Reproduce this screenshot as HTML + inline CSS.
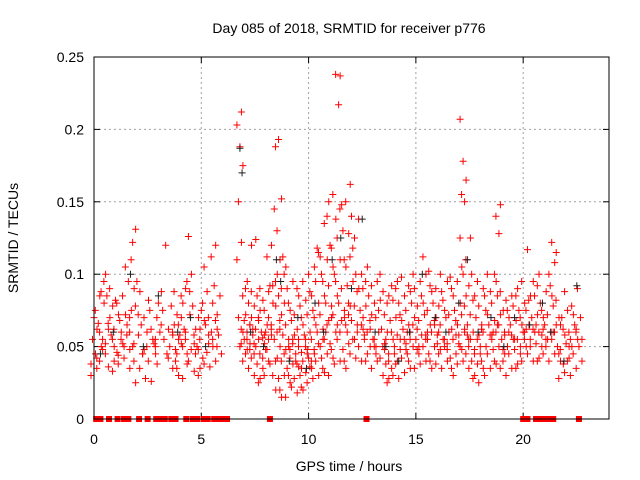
<!DOCTYPE html>
<html><head><meta charset="utf-8"><style>
body{margin:0;background:#fff}
svg{display:block;font-family:"Liberation Sans",sans-serif}
</style></head><body>
<svg id="c" width="640" height="480" xmlns="http://www.w3.org/2000/svg"></svg>
<script>
const xTicks=[0,5,10,15,20];
const yTicks=[0,0.05,0.1,0.15,0.2,0.25];
const yTickLabels=["0","0.05","0.1","0.15","0.2","0.25"];
const redTimes=[0.0,0.2,0.4,0.6,0.8,1.0,1.2,1.4,1.6,1.8,2.0,2.2,2.4,2.6,2.8,3.0,3.2,3.4,3.6,3.8,4.0,4.2,4.4,4.6,4.8,5.0,5.2,5.4,5.6,5.8,6.8,7.0,7.2,7.4,7.6,7.8,8.0,8.2,8.4,8.6,8.8,9.0,9.2,9.4,9.6,9.8,10.0,10.2,10.4,10.6,10.8,11.0,11.2,11.4,11.6,11.8,12.0,12.2,12.4,12.6,12.8,13.0,13.2,13.4,13.6,13.8,14.0,14.2,14.4,14.6,14.8,15.0,15.2,15.4,15.6,15.8,16.0,16.2,16.4,16.6,16.8,17.0,17.2,17.4,17.6,17.8,18.0,18.2,18.4,18.6,18.8,19.0,19.2,19.4,19.6,19.8,20.0,20.2,20.4,20.6,20.8,21.0,21.2,21.4,21.6,21.8,22.0,22.2,22.4,22.6];
const redValues=[
[30,45,55,62,70,38],[35,50,66,75,85,42],[48,60,80,88,100,55,40],[36,52,70,85,95,62,45],[40,58,66,78,90,50],[33,46,62,72,82,55],[38,52,68,80,60,44],[42,55,72,85,65,50],[35,58,75,95,105,48],[25,50,70,90,110,131,122,60],
[40,58,78,88,95,52],[35,48,65,72,45],[28,45,60,70,82],[26,40,55,75,50],[38,52,62,45],[50,60,70,88,80,55],[65,120,75],[45,55,62],[35,50,65,78,42,58],[30,48,60,72,88,55,40],
[35,52,65,80,58,45,70],[28,45,62,85,90,50,38],[40,55,72,95,100,126,60],[33,48,62,78,88,52],[35,50,58,70,45,62],[30,42,55,68,75,48],[38,52,65,80,88,105,58],[36,46,60,70,50],[40,55,72,92,112,120,80,62],[45,58,68,85,50],
[110,122,150,175,188,203,212,70,60,50],[40,48,55,62,72,85,95,68,52],[35,45,52,60,70,80,90,65,55,120],[30,42,50,58,65,78,88,124,62,48],[28,38,45,55,62,75,85,52,68],[25,35,45,52,60,70,82,90,58],[30,40,48,56,65,75,88,60,42],[38,48,58,70,80,92,112,120,55],[20,30,42,55,65,78,92,100,145,62],[15,28,40,50,60,72,85,95,110,130,152,193,188],
[20,30,40,48,58,68,80,90,105,112,62],[15,25,35,45,55,65,75,90,100,50],[22,30,38,48,58,68,80,95,42],[18,28,36,45,52,62,72,85,40,55],[20,30,38,46,55,65,78,90,35,50],[22,32,40,48,58,70,82,95,45],[25,35,42,50,60,72,85,100,55],[28,36,45,55,65,75,88,105,40],[30,40,50,60,70,80,95,112,118,48],[32,42,52,62,72,85,100,115,55],
[35,45,55,68,80,95,110,135,150,60],[30,42,52,65,78,92,105,120,140,70],[38,48,60,72,85,100,118,138,155,65],[40,55,68,80,95,110,125,148,217,238,237],[35,48,60,75,90,105,130,145,70],[40,52,65,78,92,110,128,150,162,60],[45,55,68,80,95,112,125,140,72],[42,55,65,78,90,100,118,60],[40,50,62,75,88,100,138,70],[45,55,65,78,90,105,58],
[40,50,60,72,85,95,62],[35,45,55,68,80,92,50],[40,50,60,70,82,95,55],[30,42,52,62,75,88,100,48],[28,38,50,60,72,85,55],[25,35,45,55,68,80,92,40],[30,40,50,60,70,82,95,45],[28,38,48,58,68,80,90,55],[32,42,52,62,72,85,98,48],[35,45,55,65,75,88,60],
[40,50,60,70,80,92,100,55],[35,45,55,65,78,90,50],[38,48,58,68,80,95,62],[40,50,60,72,85,100,112,55],[35,45,55,65,75,88,102,58],[40,50,60,70,80,92,65],[38,48,58,68,78,90,100,52],[35,45,55,65,75,88,60],[40,50,60,70,82,95,55],[30,42,52,62,72,85,98,48],
[35,45,55,65,75,90,58],[38,48,58,68,80,95,105,52],[40,50,60,72,85,100,125,150,155,165,178,207,62],[35,45,55,65,78,92,110,125,58],[30,40,50,60,72,85,100,55],[28,38,48,58,70,82,95,45],[25,35,45,55,65,78,90,50],[30,40,50,60,72,85,62],[35,45,55,65,75,88,100,58],[38,48,58,68,80,95,60],
[40,50,60,72,85,100,128,140,148,65],[35,45,55,65,75,88,58],[30,40,50,60,70,82,48],[35,45,55,65,75,85,60],[38,48,58,68,78,90,55],[35,45,55,65,75,85,50],[40,50,60,70,80,95,62],[45,55,65,75,85,117,60],[40,50,60,70,82,95,55],[42,52,62,72,85,100,65],
[40,50,60,70,80,92,58],[45,55,65,75,88,62],[40,50,60,72,85,100,55],[45,55,65,78,92,108,122,115,60],[40,50,60,70,82,65],[28,38,48,58,70,45],[32,42,52,62,75,88,50],[30,40,50,60,72,55],[35,45,55,65,78,62],[40,50,60,70,90,55]];
const blackTimes=[0.3,0.9,1.7,2.3,3.0,3.9,4.5,5.2,6.8,6.9,7.3,7.9,8.5,8.7,9.1,9.5,9.9,10.3,10.7,11.1,11.5,12.0,12.5,13.1,13.6,14.2,14.7,15.3,15.9,16.4,17.0,17.4,17.9,18.5,19.1,19.6,20.3,20.9,21.3,21.9,22.5];
const blackValues=[0.045,0.06,0.1,0.05,0.085,0.06,0.07,0.05,0.187,0.17,0.06,0.05,0.11,0.095,0.04,0.07,0.035,0.08,0.06,0.11,0.125,0.09,0.138,0.06,0.05,0.04,0.06,0.1,0.07,0.06,0.08,0.11,0.06,0.07,0.05,0.07,0.065,0.08,0.06,0.04,0.092];
const zeroTimes=[0.1,0.3,0.7,1.1,1.4,1.6,2.1,2.5,2.9,3.1,3.3,3.6,3.8,4.3,4.6,4.8,5.1,5.3,5.6,5.8,6.0,6.2,8.2,12.7,20.0,20.2,20.6,20.8,21.0,21.2,21.4,22.6];
const L=94,R=609,T=57,B=419,XMAX=24,YMAX=0.25;
const sx=t=>L+t/XMAX*(R-L), sy=v=>B-v/YMAX*(B-T);
const svg=document.getElementById('c');const NS='http://www.w3.org/2000/svg';
function mk(tag,a,p){const e=document.createElementNS(NS,tag);for(const k in a)e.setAttribute(k,a[k]);(p||svg).appendChild(e);return e;}
const grid=mk('g',{stroke:'#a0a0a0','stroke-width':1,'stroke-dasharray':'2,3'});


const axes=mk('g',{});


yTicks.forEach((v,i)=>{const y=sy(v);
 if(i>0&&i<yTicks.length-1)mk('line',{x1:L,x2:R,y1:y,y2:y},grid);
 mk('line',{x1:L,x2:L+6,y1:y,y2:y,stroke:'#000'},axes);mk('line',{x1:R,x2:R-6,y1:y,y2:y,stroke:'#000'},axes);
 const t=mk('text',{x:L-10,y:y+5,'text-anchor':'end','font-size':14,fill:'#000'},axes);t.textContent=yTickLabels[i];
 
 });
xTicks.forEach(v=>{const x=sx(v);
 if(v>0)mk('line',{x1:x,x2:x,y1:T,y2:B},grid);
 mk('line',{x1:x,x2:x,y1:B,y2:B-6,stroke:'#000'},axes);mk('line',{x1:x,x2:x,y1:T,y2:T+6,stroke:'#000'},axes);
 const t=mk('text',{x:x,y:B+25,'text-anchor':'middle','font-size':14,fill:'#000'},axes);t.textContent=String(v);
 
 });
const red=mk('g',{stroke:'#ff0000','stroke-width':1});


function plus(x,y,g){mk('path',{d:`M${x-3.5},${y}h7M${x},${y-3.5}v7`},g);}
redTimes.forEach((t,i)=>{redValues[i].forEach((v,j)=>{const dt=((j*3+i)%5-2)*0.07;plus(sx(t+dt),sy(v/1000),red);});});
const blk=mk('g',{stroke:'#202020','stroke-width':1});


blackTimes.forEach((t,i)=>plus(sx(t),sy(blackValues[i]),blk));
const zs=mk('g',{fill:'#ff0000'});


zeroTimes.forEach(t=>mk('rect',{x:sx(t)-3,y:B-3,width:6,height:6},zs));
const fr=mk('rect',{x:L,y:T,width:R-L,height:B-T,fill:'none',stroke:'#000','stroke-width':1});


let t=mk('text',{x:349,y:33,'text-anchor':'middle','font-size':14});t.textContent='Day 085 of 2018, SRMTID for receiver p776';


t=mk('text',{x:349,y:471,'text-anchor':'middle','font-size':14});t.textContent='GPS time / hours';


t=mk('text',{x:0,y:0,'text-anchor':'middle','font-size':14,transform:'translate(18,238) rotate(-90)'});t.textContent='SRMTID / TECUs';


</script>
</body></html>
